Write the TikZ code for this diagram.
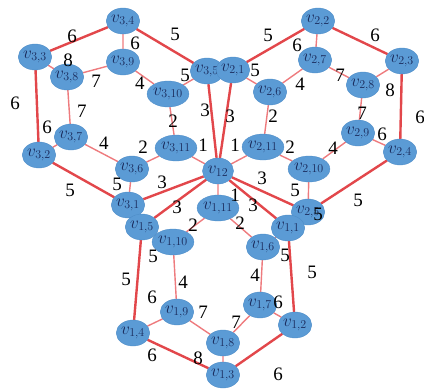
\documentclass[tikz,border=0pt]{standalone}
\usepackage{fontspec}
\setmainfont{Liberation Serif}
\newfontfamily\weightfont{Liberation Serif}
\usepackage{tikz}
\usepackage{xcolor}
\usetikzlibrary{shapes.geometric, backgrounds}

\definecolor{vblue}{HTML}{5B9BD5}
\definecolor{vrim}{HTML}{4E8DC8}
\definecolor{vtext}{HTML}{1A2B5C}
\definecolor{ered}{HTML}{E2474B}
\definecolor{epink}{HTML}{EE7B7E}

\begin{document}
\begin{tikzpicture}[x=1pt, y=-1pt,
        vert/.style={ellipse, fill=vblue, draw=vrim, line width=0.4pt,
            minimum width=31pt, minimum height=26pt, inner sep=0pt,
            text=vtext, font=\fontsize{17}{17}\selectfont},
        outer/.style={draw=ered, line width=2.4pt},
        inner/.style={draw=epink, line width=1.4pt},
        lbl/.style={font=\weightfont\fontsize{19}{19}\selectfont, inner sep=0pt}]
        \useasboundingbox (0,0) rectangle (424,391);
        % vertices of the third block
        \node[vert] (v34) at (123,21) {$v_{3,4}$};
        \node[vert] (v33) at (35,57) {$v_{3,3}$};
        \node[vert] (v38) at (67,77) {$v_{3,8}$};
        \node[vert] (v39) at (123,62) {$v_{3,9}$};
        \node[vert] (v310) at (168,94) {$v_{3,10}$};
        \node[vert] (v35) at (207,71) {$v_{3,5}$};
        \node[vert] (v37) at (71,137) {$v_{3,7}$};
        \node[vert] (v32) at (39,155) {$v_{3,2}$};
        \node[vert] (v36) at (132,169) {$v_{3,6}$};
        \node[vert] (v311) at (176,148) {$v_{3,11}$};
        \node[vert] (v31) at (128,205) {$v_{3,1}$};
        % vertices of the second block
        \node[vert] (v22) at (318,21) {$v_{2,2}$};
        \node[vert] (v27) at (315,60) {$v_{2,7}$};
        \node[vert] (v23) at (402,61) {$v_{2,3}$};
        \node[vert] (v21) at (233,70) {$v_{2,1}$};
        \node[vert] (v26) at (270,92) {$v_{2,6}$};
        \node[vert] (v28) at (363,85) {$v_{2,8}$};
        \node[vert] (v29) at (358,133) {$v_{2,9}$};
        \node[vert] (v24) at (400,152) {$v_{2,4}$};
        \node[vert] (v211) at (263,147) {$v_{2,11}$};
        \node[vert] (v210) at (309,169) {$v_{2,10}$};
        \node[vert] (v25) at (308,212) {$v_{2,5}$};
        % vertices of the first block
        \node[vert] (v15) at (142,227) {$v_{1,5}$};
        \node[vert] (v110) at (173,242) {$v_{1,10}$};
        \node[vert] (v19) at (177,312) {$v_{1,9}$};
        \node[vert] (v14) at (133,333) {$v_{1,4}$};
        \node[vert] (v111) at (218,208) {$v_{1,11}$};
        \node[vert] (v11) at (288,228) {$v_{1,1}$};
        \node[vert] (v16) at (263,247) {$v_{1,6}$};
        \node[vert] (v17) at (260,305) {$v_{1,7}$};
        \node[vert] (v12) at (295,325) {$v_{1,2}$};
        \node[vert] (v18) at (223,343) {$v_{1,8}$};
        \node[vert] (v13) at (223,375) {$v_{1,3}$};
        % centre
        \node[vert] (vc) at (218,171) {$v_{12}$};

        \begin{scope}[on background layer]
            % third block
            \draw[outer] (v31) -- (v32) -- (v33) -- (v34) -- (v35) -- (vc) -- (v31);
            \draw[inner] (v34) -- (v39) (v33) -- (v38) (v38) -- (v39) (v38) -- (v37)
                (v39) -- (v310) (v310) -- (v35) (v310) -- (v311) (v37) -- (v32)
                (v37) -- (v36) (v36) -- (v311) (v311) -- (vc) (v36) -- (v31);
            % second block
            \draw[outer] (v25) -- (v24) -- (v23) -- (v22) -- (v21) -- (vc) -- (v25);
            \draw[inner] (v22) -- (v27) (v21) -- (v26) (v27) -- (v26) (v27) -- (v28)
                (v28) -- (v23) (v28) -- (v29) (v29) -- (v24) (v26) -- (v211)
                (v29) -- (v210) (v211) -- (v210) (v211) -- (vc) (v210) -- (v25);
            % first block
            \draw[outer] (v15) -- (v14) -- (v13) -- (v12) -- (v11) -- (vc) -- (v15);
            \draw[inner] (v15) -- (v110) (v110) -- (v111) (v110) -- (v19) (v19) -- (v14)
                (v19) -- (v18) (v18) -- (v13) (v18) -- (v17) (v17) -- (v12)
                (v17) -- (v16) (v16) -- (v11) (v16) -- (v111) (v111) -- (vc);
        \end{scope}

        % weights of the third block
        \node[lbl] (w3a) at (72,36) {6};
        \node[lbl] (w3b) at (175,34) {5};
        \node[lbl] (w3c) at (135,43) {6};
        \node[lbl] (w3d) at (68,60) {8};
        \node[lbl] (w3e) at (15,103) {6};
        \node[lbl] (w3f) at (96,81) {7};
        \node[lbl] (w3g) at (140,83) {4};
        \node[lbl] (w3h) at (185,75) {5};
        \node[lbl] (w3i) at (82,111) {7};
        \node[lbl] (w3j) at (47,127) {6};
        \node[lbl] (w3k) at (104,143) {4};
        \node[lbl] (w3l) at (143,147) {2};
        \node[lbl] (w3m) at (173,121) {2};
        \node[lbl] (w3n) at (203,145) {1};
        \node[lbl] (w3o) at (205,110) {3};
        \node[lbl] (w3p) at (162,182) {3};
        \node[lbl] (w3q) at (70,190) {5};
        \node[lbl] (w3r) at (117,184) {5};
        % weights of the second block
        \node[lbl] (w2a) at (268,35) {5};
        \node[lbl] (w2b) at (297,45) {6};
        \node[lbl] (w2c) at (375,35) {6};
        \node[lbl] (w2d) at (255,70) {5};
        \node[lbl] (w2e) at (300,84) {4};
        \node[lbl] (w2f) at (340,75) {7};
        \node[lbl] (w2g) at (390,90) {8};
        \node[lbl] (w2h) at (420,117) {6};
        \node[lbl] (w2i) at (362,113) {7};
        \node[lbl] (w2j) at (382,134) {6};
        \node[lbl] (w2k) at (273,116) {2};
        \node[lbl] (w2l) at (290,147) {2};
        \node[lbl] (w2m) at (333,148) {4};
        \node[lbl] (w2n) at (235,145) {1};
        \node[lbl] (w2o) at (230,116) {3};
        \node[lbl] (w2p) at (262,178) {3};
        \node[lbl] (w2q) at (295,190) {5};
        \node[lbl] (w2r) at (358,200) {5};
        \node[lbl] (w2s) at (318,214) {5};
        % weights of the first block
        \node[lbl] (w1a) at (177,207) {3};
        \node[lbl] (w1b) at (235,195) {1};
        \node[lbl] (w1c) at (253,205) {3};
        \node[lbl] (w1d) at (193,225) {2};
        \node[lbl] (w1e) at (240,223) {2};
        \node[lbl] (w1f) at (153,256) {5};
        \node[lbl] (w1g) at (126,279) {5};
        \node[lbl] (w1h) at (183,282) {4};
        \node[lbl] (w1i) at (152,297) {6};
        \node[lbl] (w1j) at (203,312) {7};
        \node[lbl] (w1k) at (152,355) {6};
        \node[lbl] (w1l) at (198,358) {8};
        \node[lbl] (w1m) at (236,322) {7};
        \node[lbl] (w1n) at (255,275) {4};
        \node[lbl] (w1o) at (278,302) {6};
        \node[lbl] (w1p) at (285,255) {5};
        \node[lbl] (w1q) at (312,272) {5};
        \node[lbl] (w1r) at (278,374) {6};
\end{tikzpicture}
\end{document}
